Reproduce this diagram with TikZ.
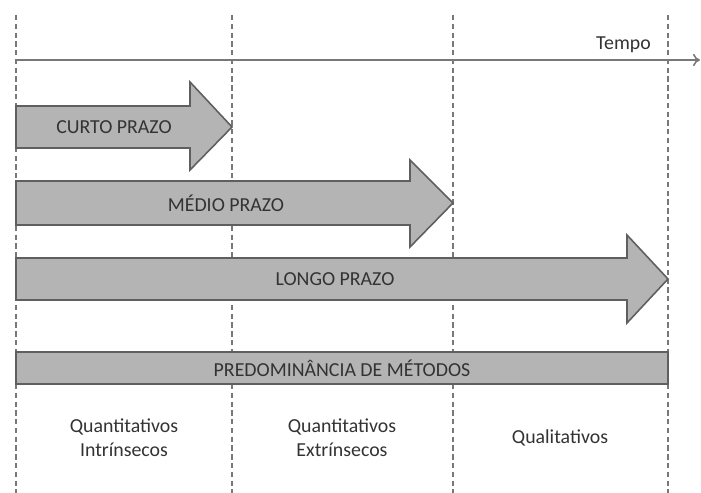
\documentclass[tikz,border=0pt]{standalone}
\usepackage{fontspec}
\setmainfont{Carlito}
\usepackage{xcolor}
\usetikzlibrary{arrows.meta}
\definecolor{barfill}{RGB}{180,180,180}
\definecolor{baredge}{RGB}{95,95,95}
\definecolor{gridgray}{RGB}{120,120,120}
\tikzset{
    prazo/.style={fill=barfill,draw=baredge,line width=0.9pt,line join=miter},
    divisa/.style={gridgray,dashed,line width=0.8pt,dash pattern=on 3pt off 2pt},
    rotulo/.style={color=black!80,font=\fontsize{11.3}{13.5}\selectfont,align=center}
}
\begin{document}
\begin{tikzpicture}[x=0.02cm,y=-0.02cm]
    \useasboundingbox (0,0) rectangle (701,493);
    \def\xa{16}
    \def\xb{232}
    \def\xc{453}
    \def\xd{668}
    \def\ytop{15}
    \def\ybot{493}
    % divisoes
    \foreach \x in {\xa,\xb,\xc,\xd}
        \draw [divisa] (\x,\ytop) -- (\x,\ybot);
    % eixo do tempo
    \coordinate (t0) at (\xa,60);
    \coordinate (t1) at (700,60);
    \draw [gridgray,line width=0.9pt,-{To[length=4pt,width=7pt]}] (t0) -- (t1);
    \node[rotulo,anchor=east] (tempo) at (657,45) {Tempo};
    % setas
    \filldraw[prazo] (\xa,106) -- (190,106) -- (190,82) -- (\xb,127) -- (190,170) -- (190,148) -- (\xa,148) -- cycle;
    \filldraw[prazo] (\xa,181) -- (410,181) -- (410,160) -- (\xc,203) -- (410,247) -- (410,225) -- (\xa,225) -- cycle;
    \filldraw[prazo] (\xa,258) -- (627,258) -- (627,235) -- (\xd,279) -- (627,323) -- (627,300) -- (\xa,300) -- cycle;
    \node[rotulo] (curto) at (114,127) {CURTO PRAZO};
    \node[rotulo] (medio) at (226,203) {MÉDIO PRAZO};
    \node[rotulo] (longo) at (335,279) {LONGO PRAZO};
    % metodos
    \filldraw[prazo] (\xa,352) rectangle (\xd,384);
    \node[rotulo] (metodos) at (342,368) {PREDOMINÂNCIA DE MÉTODOS};
    \node[rotulo] (intr) at (124,438) {Quantitativos\\Intrínsecos};
    \node[rotulo] (extr) at (342,438) {Quantitativos\\Extrínsecos};
    \node[rotulo] (qual) at (560,438) {Qualitativos};
\end{tikzpicture}
\end{document}
